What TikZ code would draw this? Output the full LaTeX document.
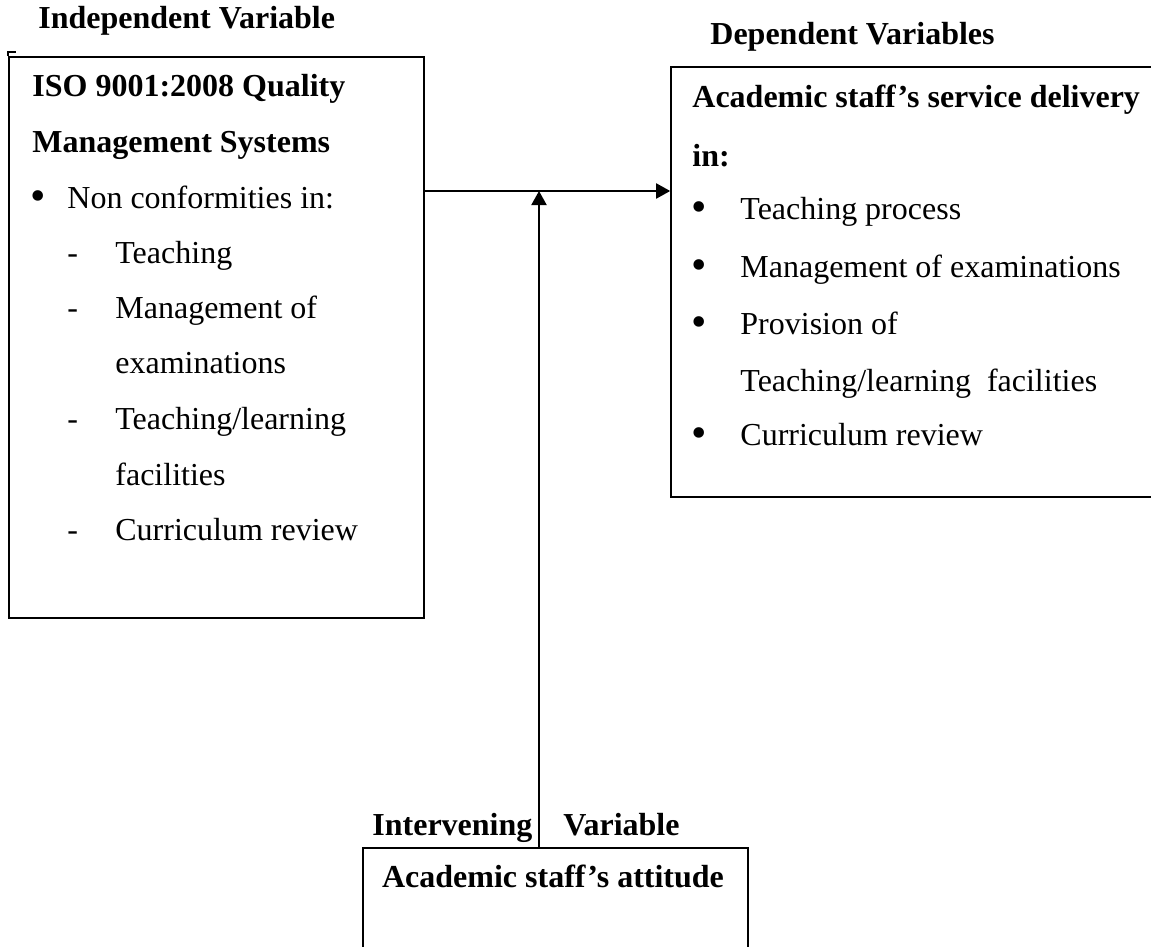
\documentclass[tikz,border=0pt]{standalone}
\usepackage{fontspec}
\setmainfont{Liberation Serif}
\usetikzlibrary{arrows.meta,fit}
\begin{document}
\begin{tikzpicture}[x=0.5pt,y=-0.5pt,
  every node/.style={font=\fontsize{16pt}{19pt}\selectfont, inner sep=0pt},
  txt/.style={anchor=base west},
  head/.style={anchor=base west, font=\fontsize{16pt}{19pt}\selectfont\bfseries},
  dot/.style={anchor=center, font=\fontsize{22pt}{22pt}\selectfont},
  boxst/.style={draw, line width=0.8pt, inner sep=0pt},
  conn/.style={line width=1pt, -{Triangle[length=7pt,width=7.5pt]}}]
\useasboundingbox (0,0) rectangle (1151,947);
\clip (0,0) rectangle (1151,947);

% boxes
\node[boxst, fit={(9,57)(424,618)}] (iv) {};
\node[boxst, fit={(671,67)(1170,497)}] (dv) {};
\node[boxst, fit={(363,848)(748,990)}] (mv) {};
\draw[line width=0.8pt] (iv.north west) -- ++(0,-4) -- ++(8,0);

% independent variable
\node[head] (ivt) at (38,29) {Independent Variable};
\node[head] (iv1) at (32,97) {ISO 9001:2008 Quality};
\node[head] (iv2) at (32,153) {Management Systems};
\node[dot] (ivb) at (38,201) {•};
\node[txt] (iv3) at (67,208) {Non conformities in:};
\node[txt] (ivd1) at (67,263) {-};
\node[txt] (iv4) at (115,263) {Teaching};
\node[txt] (ivd2) at (67,318) {-};
\node[txt] (iv5) at (115,318) {Management of};
\node[txt] (iv6) at (115,373) {examinations};
\node[txt] (ivd3) at (67,429) {-};
\node[txt] (iv7) at (115,429) {Teaching/learning};
\node[txt] (iv8) at (115,485) {facilities};
\node[txt] (ivd4) at (67,540) {-};
\node[txt] (iv9) at (115,540) {Curriculum review};

% dependent variables
\node[head] (dvt) at (710,45) {Dependent Variables};
\node[head] (dv1) at (692,108) {Academic staff’s service delivery};
\node[head] (dv2) at (692,166) {in:};
\node[dot] (dvb1) at (699,212) {•};
\node[txt] (dv3) at (740,219) {Teaching process};
\node[dot] (dvb2) at (699,270) {•};
\node[txt] (dv4) at (740,277) {Management of examinations};
\node[dot] (dvb3) at (699,327) {•};
\node[txt] (dv5) at (740,334) {Provision of};
\node[txt] (dv6) at (740,391) {Teaching/learning\ \ facilities};
\node[dot] (dvb4) at (699,438) {•};
\node[txt] (dv7) at (740,445) {Curriculum review};

% intervening variable
\node[head] (mvt1) at (372,835) {Intervening};
\node[head] (mvt2) at (563,835) {Variable};
\node[head, anchor=base] (mv1) at (553,887) {Academic staff’s attitude};

% connectors
\coordinate (jn) at (539,191);
\draw[conn] (iv.east |- jn) -- (dv.west |- jn);
\draw[conn] (mv.north -| jn) -- (jn);
\end{tikzpicture}
\end{document}
